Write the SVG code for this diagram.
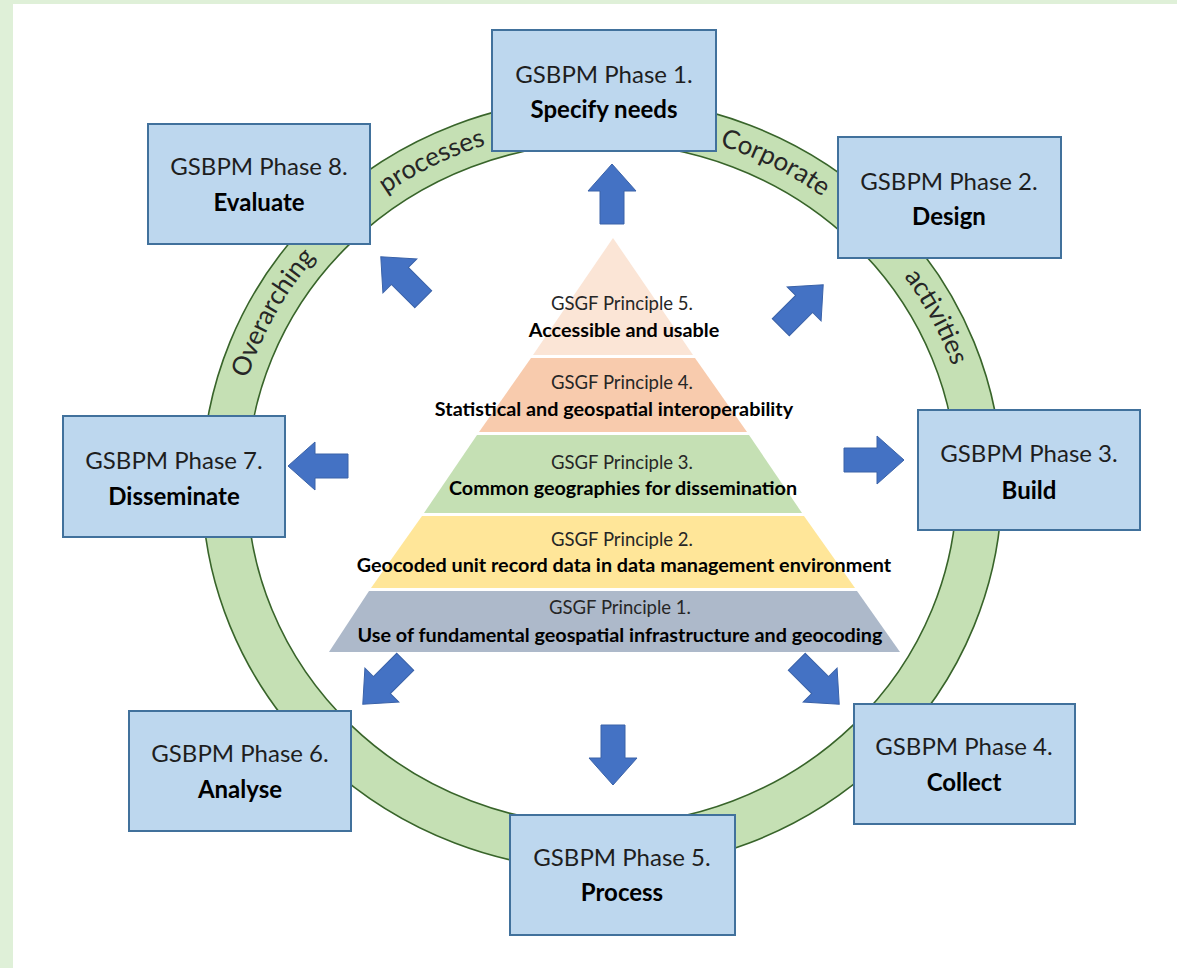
<svg xmlns="http://www.w3.org/2000/svg" xmlns:xlink="http://www.w3.org/1999/xlink" width="1177" height="968" viewBox="0 0 1177 968">
<defs>
<style>
.box{fill:#bdd7ee;stroke:#41719c;stroke-width:2}
.t1{font-family:Lato,"Liberation Sans",sans-serif;font-size:24px;fill:#1e1e1e;text-anchor:middle}
.t2{font-family:Lato,"Liberation Sans",sans-serif;font-size:24px;font-weight:bold;fill:#000;text-anchor:middle}
.p1{font-family:Lato,"Liberation Sans",sans-serif;font-size:18.5px;fill:#262626;text-anchor:middle}
.p2{font-family:Lato,"Liberation Sans",sans-serif;font-size:19.8px;font-weight:bold;fill:#000;text-anchor:middle}
.ring{font-family:Lato,"Liberation Sans",sans-serif;font-size:26px;fill:#262626;text-anchor:middle}
.arr{fill:#4472c4;stroke:#3a62a8;stroke-width:1}
</style>
<path id="ringTop" d="M 231,484 A 371 357 0 0 1 973,484"/>
<polygon id="arrow" points="-30,-12 3,-12 3,-24 30,0 3,24 3,12 -30,12"/>
</defs>
<rect x="0" y="0" width="1177" height="968" fill="#ffffff"/>
<rect x="0" y="0" width="13" height="968" fill="#dff0d8"/>
<rect x="0" y="0" width="1177" height="4" fill="#dff0d8"/>

<g id="ring">
<path d="M 202,484 A 400 386 0 1 0 1002,484 A 400 386 0 1 0 202,484 Z M 247,484 A 355 341 0 1 0 957,484 A 355 341 0 1 0 247,484 Z" fill="#c5e0b4" fill-rule="evenodd" stroke="#38642a" stroke-width="1.6"/>
<text class="ring"><textPath href="#ringTop" xlink:href="#ringTop" startOffset="15.5%">Overarching</textPath></text>
<text class="ring"><textPath href="#ringTop" xlink:href="#ringTop" startOffset="34.8%">processes</textPath></text>
<text class="ring"><textPath href="#ringTop" xlink:href="#ringTop" startOffset="65.5%">Corporate</textPath></text>
<text class="ring"><textPath href="#ringTop" xlink:href="#ringTop" startOffset="85%">activities</textPath></text>
</g>

<g id="pyramid">
<g id="principle5">
<polygon points="613,238 693,355 533,355" fill="#fbe5d6"/>
<text class="p1" x="622" y="310">GSGF Principle 5.</text>
<text class="p2" x="624" y="337">Accessible and usable</text>
</g>
<g id="principle4">
<polygon points="531,358 695,358 747,432 479,432" fill="#f8cbad"/>
<text class="p1" x="622" y="389">GSGF Principle 4.</text>
<text class="p2" x="614" y="416">Statistical and geospatial interoperability</text>
</g>
<g id="principle3">
<polygon points="477,435 749,435 802,513 424,513" fill="#c5e0b4"/>
<text class="p1" x="622" y="469">GSGF Principle 3.</text>
<text class="p2" x="623" y="495">Common geographies for dissemination</text>
</g>
<g id="principle2">
<polygon points="422,516 804,516 855,588 371,588" fill="#ffe699"/>
<text class="p1" x="622" y="546">GSGF Principle 2.</text>
<text class="p2" x="624" y="572">Geocoded unit record data in data management environment</text>
</g>
<g id="principle1">
<polygon points="369,591 857,591 900,652 329,652" fill="#adb9ca"/>
<text class="p1" x="620" y="614">GSGF Principle 1.</text>
<text class="p2" x="620" y="642">Use of fundamental geospatial infrastructure and geocoding</text>
</g>
</g>

<g id="connectors">
<use href="#arrow" xlink:href="#arrow" class="arr" transform="translate(612,194) rotate(-90)"/>
<use href="#arrow" xlink:href="#arrow" class="arr" transform="translate(802,306) rotate(-45)"/>
<use href="#arrow" xlink:href="#arrow" class="arr" transform="translate(874,460)"/>
<use href="#arrow" xlink:href="#arrow" class="arr" transform="translate(818,683) rotate(45)"/>
<use href="#arrow" xlink:href="#arrow" class="arr" transform="translate(613,755) rotate(90)"/>
<use href="#arrow" xlink:href="#arrow" class="arr" transform="translate(384,683) rotate(135)"/>
<use href="#arrow" xlink:href="#arrow" class="arr" transform="translate(318,466) rotate(180)"/>
<use href="#arrow" xlink:href="#arrow" class="arr" transform="translate(402,278) rotate(-135)"/>
</g>

<g id="phase1"><rect class="box" x="492" y="30" width="224" height="121"/>
<text class="t1" x="604" y="83">GSBPM Phase 1.</text><text class="t2" x="604" y="118">Specify needs</text></g>
<g id="phase2"><rect class="box" x="838" y="137" width="223" height="121"/>
<text class="t1" x="949" y="190">GSBPM Phase 2.</text><text class="t2" x="949" y="225">Design</text></g>
<g id="phase3"><rect class="box" x="918" y="410" width="222" height="120"/>
<text class="t1" x="1029" y="462">GSBPM Phase 3.</text><text class="t2" x="1029" y="499">Build</text></g>
<g id="phase4"><rect class="box" x="854" y="704" width="221" height="120"/>
<text class="t1" x="964" y="755">GSBPM Phase 4.</text><text class="t2" x="964" y="791">Collect</text></g>
<g id="phase5"><rect class="box" x="510" y="815" width="225" height="120"/>
<text class="t1" x="622" y="866">GSBPM Phase 5.</text><text class="t2" x="622" y="901">Process</text></g>
<g id="phase6"><rect class="box" x="129" y="711" width="222" height="120"/>
<text class="t1" x="240" y="762">GSBPM Phase 6.</text><text class="t2" x="240" y="798">Analyse</text></g>
<g id="phase7"><rect class="box" x="63" y="416" width="222" height="121"/>
<text class="t1" x="174" y="469">GSBPM Phase 7.</text><text class="t2" x="174" y="505">Disseminate</text></g>
<g id="phase8"><rect class="box" x="148" y="124" width="222" height="120"/>
<text class="t1" x="259" y="175">GSBPM Phase 8.</text><text class="t2" x="259" y="211">Evaluate</text></g>
</svg>
